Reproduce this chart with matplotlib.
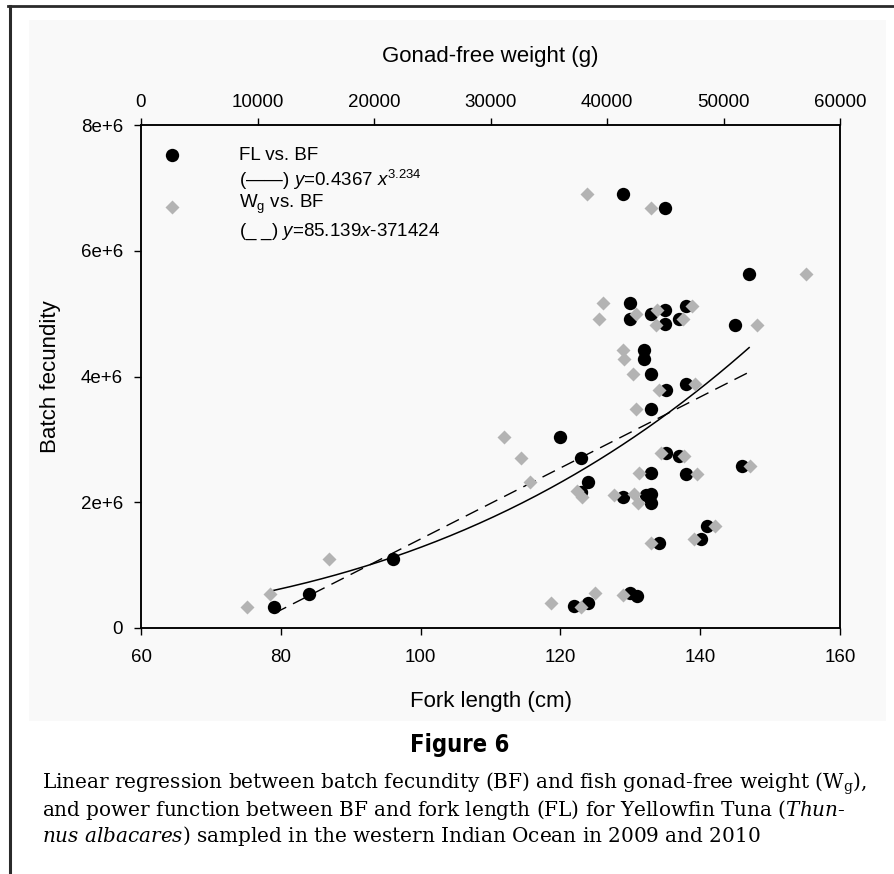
import matplotlib
matplotlib.use('Agg')
import matplotlib.pyplot as plt
import numpy as np
from matplotlib.lines import Line2D
from matplotlib.patches import Rectangle
from matplotlib.ticker import FuncFormatter

plt.rcParams['font.family'] = ['Liberation Sans', 'DejaVu Sans']
plt.rcParams['mathtext.fontset'] = 'custom'
plt.rcParams['mathtext.rm'] = 'Liberation Sans'
plt.rcParams['mathtext.it'] = 'Liberation Sans:italic'

# ---- data: fork length (cm) vs batch fecundity ----
fl_cm = [79.0, 84.0, 96.0, 120.0, 123.0, 124.0, 123.0, 129.0, 132.2, 133.0,
         133.0, 133.0, 138.0, 135.1, 137.0, 146.0, 133.0, 135.1, 138.0, 133.0,
         132.0, 132.0, 141.0, 140.1, 134.1, 122.0, 124.0, 130.0, 131.0, 129.0,
         135.0, 147.0, 130.0, 130.0, 132.9, 135.0, 135.0, 138.0, 137.0, 145.0]
bf_fl = [0.33e6, 0.54e6, 1.09e6, 3.03e6, 2.70e6, 2.33e6, 2.16e6, 2.09e6, 2.11e6, 2.13e6,
         1.99e6, 2.47e6, 2.45e6, 2.79e6, 2.74e6, 2.58e6, 3.48e6, 3.79e6, 3.88e6, 4.04e6,
         4.28e6, 4.42e6, 1.63e6, 1.41e6, 1.35e6, 0.35e6, 0.39e6, 0.56e6, 0.51e6, 6.90e6,
         6.68e6, 5.63e6, 5.17e6, 4.91e6, 5.00e6, 5.06e6, 4.83e6, 5.12e6, 4.91e6, 4.82e6]

# ---- data: gonad-free weight (g) vs batch fecundity ----
wg_g = [9073, 11047, 16165, 31159, 32590, 33391, 37396, 37880, 40601, 42318,
        42687, 42747, 47700, 44609, 46609, 52275, 42517, 44464, 47554, 42260,
        41488, 41344, 49270, 47468, 43751, 35165, 37768, 38970, 41347, 38257,
        43803, 57082, 39631, 39342, 42489, 44318, 44206, 47267, 46550, 52846]
bf_wg = [0.33e6, 0.54e6, 1.09e6, 3.03e6, 2.70e6, 2.33e6, 2.18e6, 2.08e6, 2.11e6, 2.13e6,
         1.99e6, 2.47e6, 2.45e6, 2.79e6, 2.74e6, 2.58e6, 3.48e6, 3.79e6, 3.88e6, 4.04e6,
         4.28e6, 4.42e6, 1.63e6, 1.41e6, 1.35e6, 0.39e6, 0.34e6, 0.55e6, 0.52e6, 6.90e6,
         6.68e6, 5.63e6, 5.17e6, 4.91e6, 5.00e6, 5.06e6, 4.82e6, 5.12e6, 4.91e6, 4.82e6]

# fitted curves
pow_a, pow_b = 0.4367, 3.234
fl_fit_range = [79.0, 147.0]
wg_fit_x = [11400, 52200]          # dashed line endpoints as drawn
wg_fit_y = [0.23e6, 4.07e6]

x_ticks = [60, 80, 100, 120, 140, 160]
top_ticks = [0, 10000, 20000, 30000, 40000, 50000, 60000]
y_ticks = [0, 2e6, 4e6, 6e6, 8e6]

W, H = 894, 874
fig = plt.figure(figsize=(W / 100, H / 100), dpi=100)
fig.patch.set_facecolor('white')

# panel background
fig.add_artist(Rectangle((29 / W, 1 - 721 / H), (886 - 29) / W, (721 - 20) / H,
                         transform=fig.transFigure, facecolor='#f9f9f9',
                         edgecolor='none', zorder=-5))
# page frame lines
fig.add_artist(Line2D([8 / W, 1], [1 - 5.5 / H] * 2, transform=fig.transFigure,
                      color='#2a2a2a', lw=2.0, zorder=-4))
fig.add_artist(Line2D([9.5 / W] * 2, [0, 1 - 5.5 / H], transform=fig.transFigure,
                      color='#2a2a2a', lw=2.2, zorder=-4))

x0, x1, yt, yb = 141, 840, 125, 628
ax = fig.add_axes([x0 / W, 1 - yb / H, (x1 - x0) / W, (yb - yt) / H], zorder=2)
ax.set_facecolor('none')
ax.set_xlim(60, 160)
ax.set_ylim(0, 8e6)
ax2 = ax.twiny()
ax2.set_xlim(0, 60000)
ax2.set_facecolor('none')

grey = '#b3b3b3'
ax.plot(fl_cm, bf_fl, 'o', color='black', ms=9.6, mec='none', zorder=3)
xf = np.linspace(fl_fit_range[0], fl_fit_range[1], 200)
ax.plot(xf, pow_a * xf ** pow_b, '-', color='black', lw=1.1, zorder=2)
ax2.plot(wg_g, bf_wg, 'D', color=grey, ms=7.6, mec='none', zorder=4)
ax2.plot(wg_fit_x, wg_fit_y, color='black', lw=1.0, dashes=(10, 5.5), zorder=2)

ax.set_xticks(x_ticks)
ax.set_yticks(y_ticks)
ax.yaxis.set_major_formatter(FuncFormatter(lambda v, p: '0' if v == 0 else f'{int(round(v / 1e6))}e+6'))
ax2.set_xticks(top_ticks)
ax2.set_xticklabels([str(t) for t in top_ticks])

for a in (ax, ax2):
    for s in a.spines.values():
        s.set_linewidth(1.1)
ax.tick_params(axis='x', direction='out', length=5, width=1, pad=10, labelsize=13.5, top=False)
ax.tick_params(axis='y', direction='out', length=5, width=1, pad=8, labelsize=13.5, right=False)
ax2.tick_params(axis='x', direction='out', length=5, width=1, pad=5, labelsize=13.5)

ax.set_xlabel('Fork length (cm)', fontsize=16)
ax.xaxis.set_label_coords(0.5, -0.125)
ax.set_ylabel('Batch fecundity', fontsize=16)
ax.yaxis.set_label_coords(-0.115, 0.5)
ax2.set_xlabel('Gonad-free weight (g)', fontsize=16)
ax2.xaxis.set_label_coords(0.5, 1.126)

# legend (manual)
lx_m, lx_t = 0.044, 0.1406
ax2.plot([lx_m], [0.940], 'o', color='black', ms=9.6, mec='none', transform=ax.transAxes, clip_on=False)
ax2.plot([lx_m], [0.8376], 'D', color=grey, ms=7.6, mec='none', transform=ax.transAxes, clip_on=False)
fs = 13.5
ax.text(lx_t, 0.940, 'FL vs. BF', transform=ax.transAxes, fontsize=fs, va='center', ha='left')
ax.text(lx_t, 0.8907, r'(——) $y$=0.4367 $x^{3.234}$', transform=ax.transAxes, fontsize=fs, va='center', ha='left')
ax.text(lx_t, 0.842, r'W$_\mathrm{g}$ vs. BF', transform=ax.transAxes, fontsize=fs, va='center', ha='left')
ax.text(lx_t, 0.788, r'(_ _) $y$=85.139$x$-371424', transform=ax.transAxes, fontsize=fs, va='center', ha='left')

# caption
fig.text(460 / W, 1 - 745 / H, 'Figure 6', fontsize=17, fontweight='bold',
         family='DejaVu Sans', fontstretch='condensed', ha='center', va='center')
cap = [r'Linear regression between batch fecundity (BF) and fish gonad-free weight (W$_\mathrm{g}$),',
       r'and power function between BF and fork length (FL) for Yellowfin Tuna ($\mathit{Thun}$-',
       r'$\mathit{nus\ albacares}$) sampled in the western Indian Ocean in 2009 and 2010']
base_y = [789, 815.5, 842]
cap_texts = []
for s, by in zip(cap, base_y):
    t = fig.text(42 / W, 1 - by / H, s, fontsize=13, family='DejaVu Serif',
                 math_fontfamily='dejavuserif', ha='left', va='baseline')
    cap_texts.append(t)
# fit caption size so the first line spans the reference width
fig.canvas.draw()
r = fig.canvas.get_renderer()
w1 = cap_texts[0].get_window_extent(r).width
size = 13 * 824 / w1
for t in cap_texts:
    t.set_fontsize(size)

fig.savefig('out.png', dpi=100, facecolor='white')
